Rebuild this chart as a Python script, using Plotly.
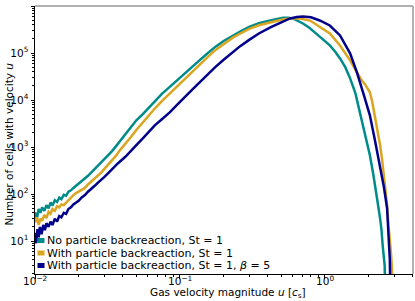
import math
import plotly.graph_objects as go

# ---- data ----
u_teal = [0.0100, 0.0103, 0.0106, 0.0109, 0.0112, 0.0116, 0.0120, 0.0124, 0.0128, 0.0132,
          0.0137, 0.0142, 0.0147, 0.0152, 0.0158, 0.0164, 0.0170, 0.0177, 0.0184, 0.0192,
          0.0200, 0.0210, 0.0221, 0.0232, 0.0245, 0.0258, 0.0272, 0.0287, 0.030, 0.032,
          0.034, 0.036, 0.0386, 0.042, 0.046, 0.050, 0.055, 0.060, 0.067, 0.075,
          0.085, 0.095, 0.107, 0.12, 0.135, 0.153, 0.175, 0.20, 0.23, 0.26,
          0.30, 0.35, 0.42, 0.47, 0.513, 0.56, 0.62, 0.70, 0.78, 0.85,
          0.95, 1.08, 1.18, 1.27, 1.38, 1.49, 1.62, 1.74, 1.88, 2.04,
          2.15, 2.25, 2.33, 2.40, 2.45, 2.50, 2.55, 2.58, 2.60]
n_teal = [41, 30, 48, 40, 52, 44, 58, 50, 66, 57,
          74, 68, 84, 78, 96, 92, 112, 120, 135, 150,
          168, 185, 215, 245, 290, 340, 395, 470, 540, 650,
          820, 1020, 1350, 1900, 2700, 3700, 4900, 6600, 9400, 13500,
          19000, 26000, 36000, 50000, 68000, 95000, 135000, 180000, 235000, 285000,
          360000, 430000, 495000, 540000, 565000, 560000, 520000, 430000, 345000, 275000,
          205000, 145000, 105000, 76800, 50000, 28900, 14000, 5480, 2000, 670,
          270, 121, 55, 30, 18, 8, 4, 3, 1]

u_gold = [0.0100, 0.0103, 0.0106, 0.0109, 0.0112, 0.0116, 0.0120, 0.0124, 0.0128, 0.0132,
          0.0137, 0.0142, 0.0147, 0.0152, 0.0158, 0.0164, 0.0170, 0.0177, 0.0184, 0.0192,
          0.0200, 0.0210, 0.0221, 0.0232, 0.0245, 0.0258, 0.0272, 0.0287, 0.030, 0.032,
          0.034, 0.036, 0.0386, 0.042, 0.046, 0.050, 0.055, 0.060, 0.067, 0.075,
          0.085, 0.095, 0.107, 0.12, 0.135, 0.153, 0.175, 0.20, 0.23, 0.26,
          0.30, 0.35, 0.42, 0.50, 0.57, 0.67, 0.79, 0.92, 1.08, 1.27,
          1.49, 1.66, 1.78, 1.89, 2.04, 2.12, 2.21, 2.30, 2.40, 2.48,
          2.55, 2.62, 2.68, 2.74, 2.81, 2.86, 2.90, 2.92]
n_gold = [25, 32, 22, 30, 27, 36, 31, 42, 38, 48,
          44, 55, 52, 60, 58, 66, 75, 84, 95, 105,
          112, 122, 135, 160, 185, 215, 245, 290, 340, 420,
          520, 640, 860, 1150, 1650, 2300, 3300, 4500, 6600, 9500,
          13900, 19500, 28000, 39000, 56000, 79000, 115000, 155000, 210000, 260000,
          325000, 390000, 450000, 510000, 540000, 543000, 490000, 367000, 261000, 145000,
          69700, 38700, 27000, 21500, 14600, 9000, 4730, 2200, 1090, 520,
          250, 120, 58, 22, 10.5, 5, 2.5, 1]

u_navy = [0.0100, 0.0102, 0.0104, 0.0106, 0.0108, 0.0111, 0.0114, 0.0117, 0.0120, 0.0124,
          0.0128, 0.0132, 0.0137, 0.0142, 0.0147, 0.0152, 0.0158, 0.0164, 0.0170, 0.0177,
          0.0184, 0.0192, 0.0200, 0.0210, 0.0221, 0.0232, 0.0245, 0.0258, 0.0272, 0.0287,
          0.030, 0.032, 0.034, 0.0374, 0.042, 0.046, 0.050, 0.055, 0.060, 0.067,
          0.075, 0.085, 0.095, 0.107, 0.12, 0.135, 0.153, 0.175, 0.20, 0.23,
          0.26, 0.30, 0.35, 0.42, 0.50, 0.574, 0.64, 0.705, 0.80, 0.92,
          1.08, 1.27, 1.49, 1.66, 1.85, 2.04, 2.20, 2.40, 2.55, 2.68,
          2.76, 2.80, 2.82]
n_navy = [15, 9, 18, 12, 20, 14, 22, 17, 24, 20,
          26, 22, 30, 26, 34, 32, 40, 38, 48, 52,
          60, 66, 72, 85, 95, 112, 128, 150, 175, 200,
          230, 280, 340, 453, 620, 860, 1100, 1500, 2000, 2900,
          3900, 5480, 7800, 11000, 16000, 23000, 34000, 50000, 72000, 102000,
          140000, 190000, 260000, 350000, 450000, 543000, 585000, 598000, 575000, 492000,
          385000, 236000, 98200, 38700, 13000, 4730, 1500, 411, 140, 50,
          10.5, 4, 1]

series_names = ["No particle backreaction, St = 1",
                "With particle backreaction, St = 1",
                "With particle backreaction, St = 1, <i>β</i> = 5"]
series_colors = ["#008b8b", "#daa520", "#00008b"]

x_tickvals = [0.01, 0.1, 1]
x_ticktext = ["10<sup>−2</sup>", "10<sup>−1</sup>", "10<sup>0</sup>"]
y_tickvals = [10, 100, 1000, 1e4, 1e5, 1e6]
y_ticktext = ["10<sup>1</sup>", "10<sup>2</sup>", "10<sup>3</sup>",
              "10<sup>4</sup>", "10<sup>5</sup>", "10<sup>6</sup>"]

x_minor = [m * 10 ** e for e in (-2, -1) for m in range(2, 10)] + [2, 3, 4]
y_minor = [m * 10 ** e for e in range(0, 6) for m in range(2, 10)]

x_title = "Gas velocity magnitude <i>u</i> [<i>c</i><sub>s</sub>]"
y_title = "Number of cells with velocity <i>u</i>"

# ---- figure ----
W, H = 415, 301
L, R, T, B = 35, 2, 6, 27
pw, ph = W - L - R, H - T - B

fig = go.Figure()
for u, n, name, c in zip([u_teal, u_gold, u_navy], [n_teal, n_gold, n_navy],
                         series_names, series_colors):
    fig.add_trace(go.Scatter(x=u, y=n, mode="lines", name=name,
                             line=dict(color=c, width=2.5),
                             showlegend=False))

font = dict(family="DejaVu Sans", size=10, color="black")

fig.update_layout(
    width=W, height=H,
    margin=dict(l=L, r=R, t=T, b=B),
    paper_bgcolor="white", plot_bgcolor="white",
    font=font,
    showlegend=False,
)
fig.update_xaxes(type="log", range=[-2, 0.607], showgrid=False, zeroline=False,
                 automargin=False,
                 showline=True, linecolor="black", linewidth=1,
                 ticks="outside", ticklen=3.5, tickwidth=0.8, tickcolor="black",
                 tickmode="array", tickvals=x_tickvals, ticktext=x_ticktext,
                 showticklabels=False,
                 minor=dict(tickmode="array", tickvals=x_minor, ticks="outside",
                            ticklen=2, tickwidth=0.6, tickcolor="black"))
fig.update_yaxes(type="log", range=[0.30, 6], showgrid=False, zeroline=False,
                 automargin=False,
                 showline=True, linecolor="black", linewidth=1,
                 ticks="outside", ticklen=3.5, tickwidth=0.8, tickcolor="black",
                 tickmode="array", tickvals=y_tickvals, ticktext=y_ticktext,
                 tickfont=dict(size=10.5),
                 minor=dict(tickmode="array", tickvals=y_minor, ticks="outside",
                            ticklen=2, tickwidth=0.6, tickcolor="black"))

# top/right frame
fig.add_shape(type="line", xref="paper", yref="paper", x0=0, x1=1, y0=1, y1=1,
              line=dict(color="#999999", width=1.5))
fig.add_shape(type="line", xref="paper", yref="paper", x0=1, x1=1, y0=0, y1=1,
              line=dict(color="#999999", width=1.5))

def px2paper(x, y):
    return (x - L) / pw, 1 - (y - T) / ph

# x tick labels (placed closer to the axis, as in the reference)
_, ty_lab = px2paper(0, 280)
for v, t in zip(x_tickvals, x_ticktext):
    fig.add_annotation(xref="x", yref="paper", x=math.log10(v), y=ty_lab, text=t,
                       showarrow=False, xanchor="center", yanchor="middle",
                       font=dict(size=10.5, color="black"))

# axis titles
ax_, ay_ = px2paper(228, 293)
fig.add_annotation(xref="paper", yref="paper", x=ax_, y=ay_, text=x_title,
                   showarrow=False, xanchor="center", yanchor="middle",
                   font=dict(size=10.5, color="black"))
ax_, ay_ = px2paper(8.5, 144)
fig.add_annotation(xref="paper", yref="paper", x=ax_, y=ay_, text=y_title,
                   showarrow=False, xanchor="center", yanchor="middle", textangle=-90,
                   font=dict(size=10.5, color="black"))

# manual legend (bottom-left, inside axes)
leg_y = [240.5, 253, 265.5]
for name, c, yy in zip(series_names, series_colors, leg_y):
    x0, y0 = px2paper(37.5, yy - 2.5)
    x1, y1 = px2paper(44.5, yy + 2.5)
    fig.add_shape(type="rect", xref="paper", yref="paper", x0=x0, x1=x1, y0=y1, y1=y0,
                  fillcolor=c, line=dict(width=0))
    tx, ty = px2paper(44.5, yy)
    fig.add_annotation(xref="paper", yref="paper", x=tx, y=ty, text=name,
                       showarrow=False, xanchor="left", yanchor="middle",
                       font=dict(size=11, color="black"))

fig.write_html("out.html",
               config={"displayModeBar": False},
               post_script="document.body.style.margin='0';"
                           "document.body.style.overflow='hidden';")
